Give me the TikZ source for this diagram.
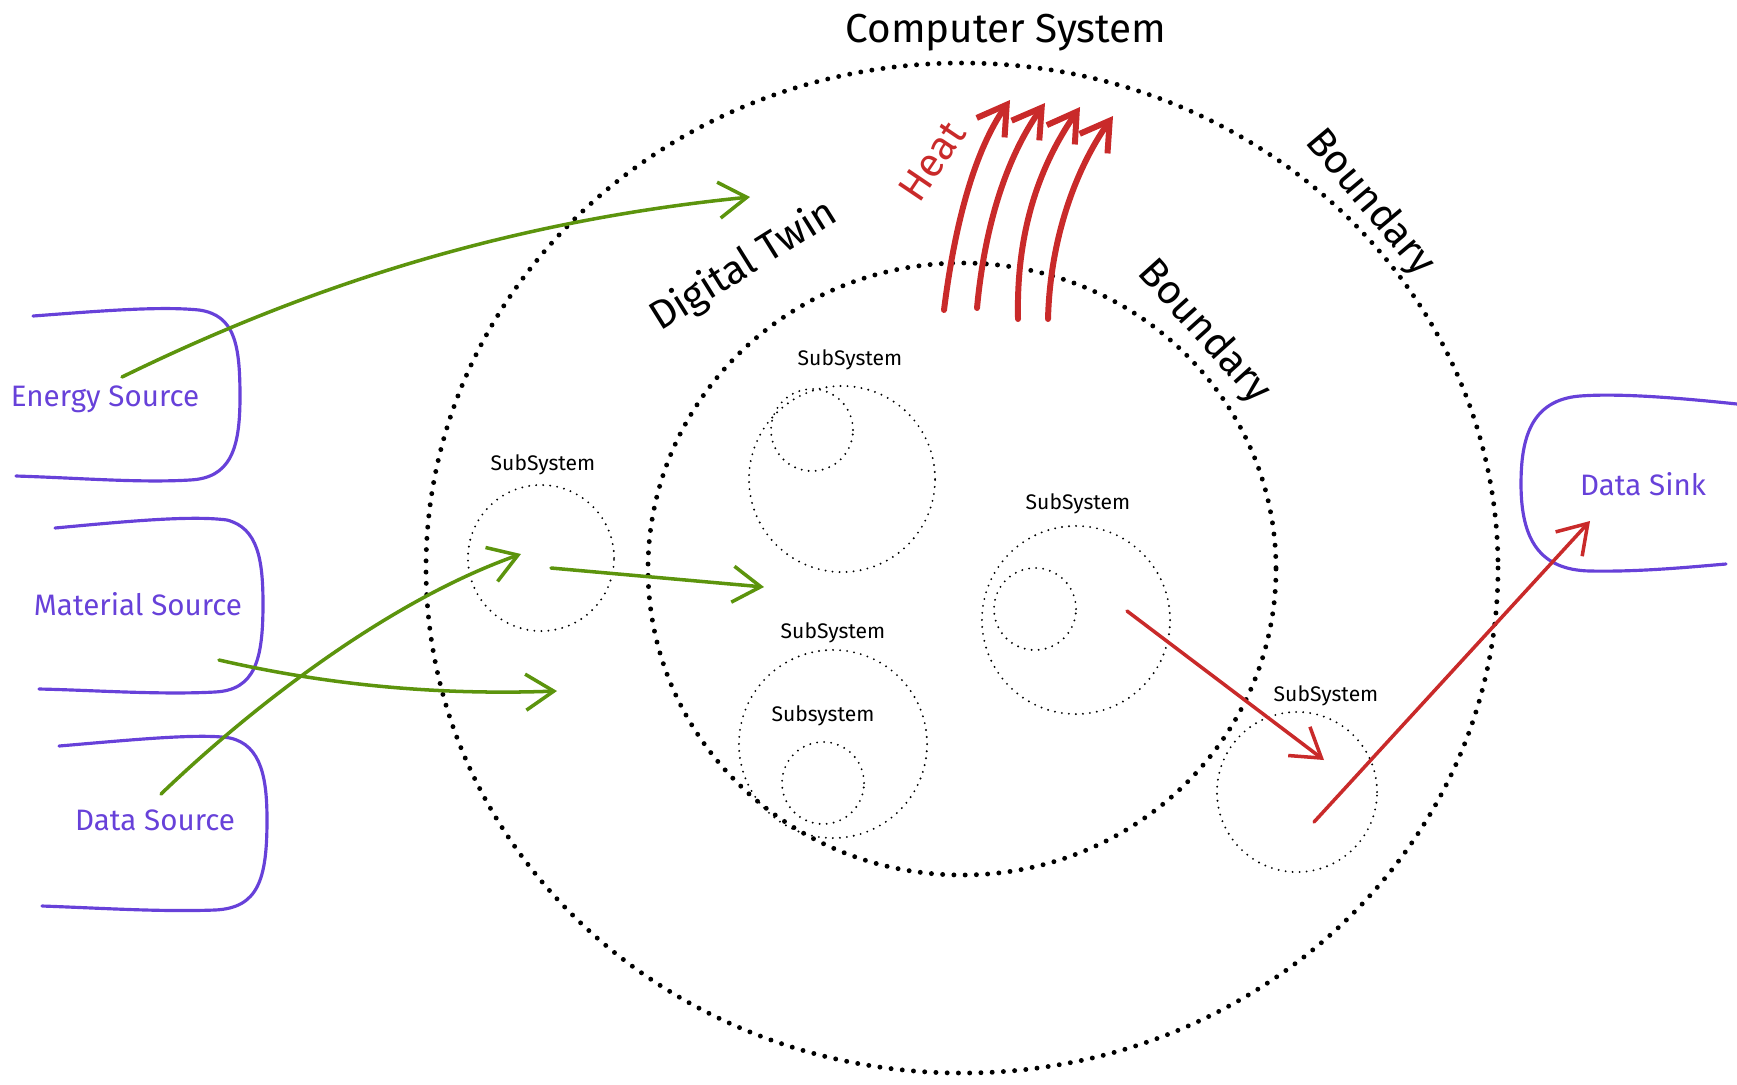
\documentclass[tikz,border=0pt]{standalone}
\usepackage{fontspec}
\setmainfont{Fira Sans}
\usetikzlibrary{arrows.meta}
\definecolor{srcviolet}{HTML}{6741D9}
\definecolor{flowgreen}{HTML}{5C940D}
\definecolor{heatred}{HTML}{C92A2A}
\tikzset{
  bound/.style={line width=1.4pt,dash pattern=on 0pt off 3.2pt,line cap=round},
  sub/.style={draw,circle,line width=0.6pt,dash pattern=on 0pt off 2pt,line cap=round,inner sep=0pt},
  sublbl/.style={font=\fontsize{6}{7}\selectfont},
  src/.style={srcviolet,line width=0.9pt,line cap=round},
  srclbl/.style={text=srcviolet,font=\fontsize{8.4}{10}\selectfont},
  flow/.style={flowgreen,line width=1pt,line cap=round,-{Straight Barb[length=2.8mm,width=3.6mm]}},
  sinkflow/.style={heatred,line width=1pt,line cap=round,-{Straight Barb[length=2.8mm,width=3.6mm]}},
  heat/.style={heatred,line width=1.7pt,line cap=round,-{Straight Barb[length=2.8mm,width=3.4mm]}},
  big/.style={font=\fontsize{11.5}{13}\selectfont}
}
\begin{document}
\begin{tikzpicture}[x=0.01cm,y=-0.01cm]
\useasboundingbox (0,0) rectangle (1737,1084);
% boundaries
\draw[bound] (962,568) ellipse [x radius=536,y radius=505];
\draw[bound] (962,569) ellipse [x radius=314,y radius=306];
\node[big] (cs) at (1006,33) {Computer System};
\node[big,rotate=-50] (bo) at (1370,203) {Boundary};
\node[big,rotate=-48] (bi) at (1204,332) {Boundary};
\node[big,rotate=32] (dt) at (744,266) {Digital Twin};
\node[big,text=heatred,rotate=56] (ht) at (932,161) {Heat};

% subsystems
\node[sub,minimum size=1.46cm] (ssa) at (541,558) {};
\node[sublbl] at (543,465) {SubSystem};
\node[sub,minimum size=1.86cm] (ssb) at (842,479) {};
\node[sub,minimum size=0.82cm] (ssbi) at (812,430) {};
\node[sublbl] at (850,360) {SubSystem};
\node[sub,minimum size=1.88cm] (ssc) at (1076,620) {};
\node[sub,minimum size=0.82cm] (ssci) at (1035,609) {};
\node[sublbl] at (1078,504) {SubSystem};
\node[sub,minimum size=1.88cm] (ssd) at (833,744) {};
\node[sub,minimum size=0.82cm] (ssdi) at (823,783) {};
\node[sublbl] at (833,633) {SubSystem};
\node[sublbl] at (823,716) {Subsystem};
\node[sub,minimum size=1.6cm] (sse) at (1297,792) {};
\node[sublbl] at (1326,696) {SubSystem};

% sources and sink
\draw[src] (33,316) .. controls (100,311) and (160,306) .. (199,310)
  .. controls (235,315) and (240,345) .. (240,397)
  .. controls (240,450) and (230,478) .. (190,480)
  .. controls (140,483) and (80,478) .. (16,476);
\node[srclbl] (es) at (105,399) {Energy Source};
\draw[src] (55,528) .. controls (120,522) and (190,515) .. (227,520)
  .. controls (258,528) and (263,560) .. (263,604)
  .. controls (263,660) and (255,690) .. (215,692)
  .. controls (160,695) and (90,690) .. (39,689);
\node[srclbl] (ms) at (138,604) {Material Source};
\draw[src] (59,746) .. controls (130,740) and (200,733) .. (230,738)
  .. controls (262,745) and (267,780) .. (267,820)
  .. controls (267,880) and (258,908) .. (215,910)
  .. controls (160,912) and (100,908) .. (42,906);
\node[srclbl] (ds) at (155,820) {Data Source};
\draw[src] (1737,404) .. controls (1680,398) and (1620,393) .. (1580,396)
  .. controls (1530,400) and (1521,440) .. (1521,484)
  .. controls (1521,540) and (1540,570) .. (1590,571)
  .. controls (1640,572) and (1690,567) .. (1726,564);
\node[srclbl] (dk) at (1643,484) {Data Sink};

% arrow ends
\coordinate (e0) at (122,377);
\coordinate (e1) at (750,197);
\coordinate (d0) at (161,794);
\coordinate (d1) at (521,554);
\coordinate (m0) at (219,660);
\coordinate (m1) at (557,691);
\coordinate (a0) at (551,568);
\coordinate (a1) at (764,587);
\coordinate (c0) at (1127,611);
\coordinate (c1) at (1324,760);
\coordinate (k0) at (1314,822);
\coordinate (k1) at (1590,521);

\draw[flow] (e0) .. controls (300,290) and (500,222) .. (e1);
\draw[flow] (d0) .. controls (240,718) and (380,604) .. (d1);
\draw[flow] (m0) .. controls (310,681) and (421,696) .. (m1);
\draw[flow] (a0) -- (a1);
\draw[sinkflow] (c0) -- (c1);
\draw[sinkflow] (k0) -- (k1);

% heat
\draw[heat] (944,310) .. controls (955,222) and (975,150) .. (1010,100);
\draw[heat] (977,308) .. controls (985,222) and (1008,155) .. (1045,103);
\draw[heat] (1018,319) .. controls (1016,230) and (1040,165) .. (1080,107);
\draw[heat] (1048,319) .. controls (1050,240) and (1075,170) .. (1113,116);
\end{tikzpicture}
\end{document}
